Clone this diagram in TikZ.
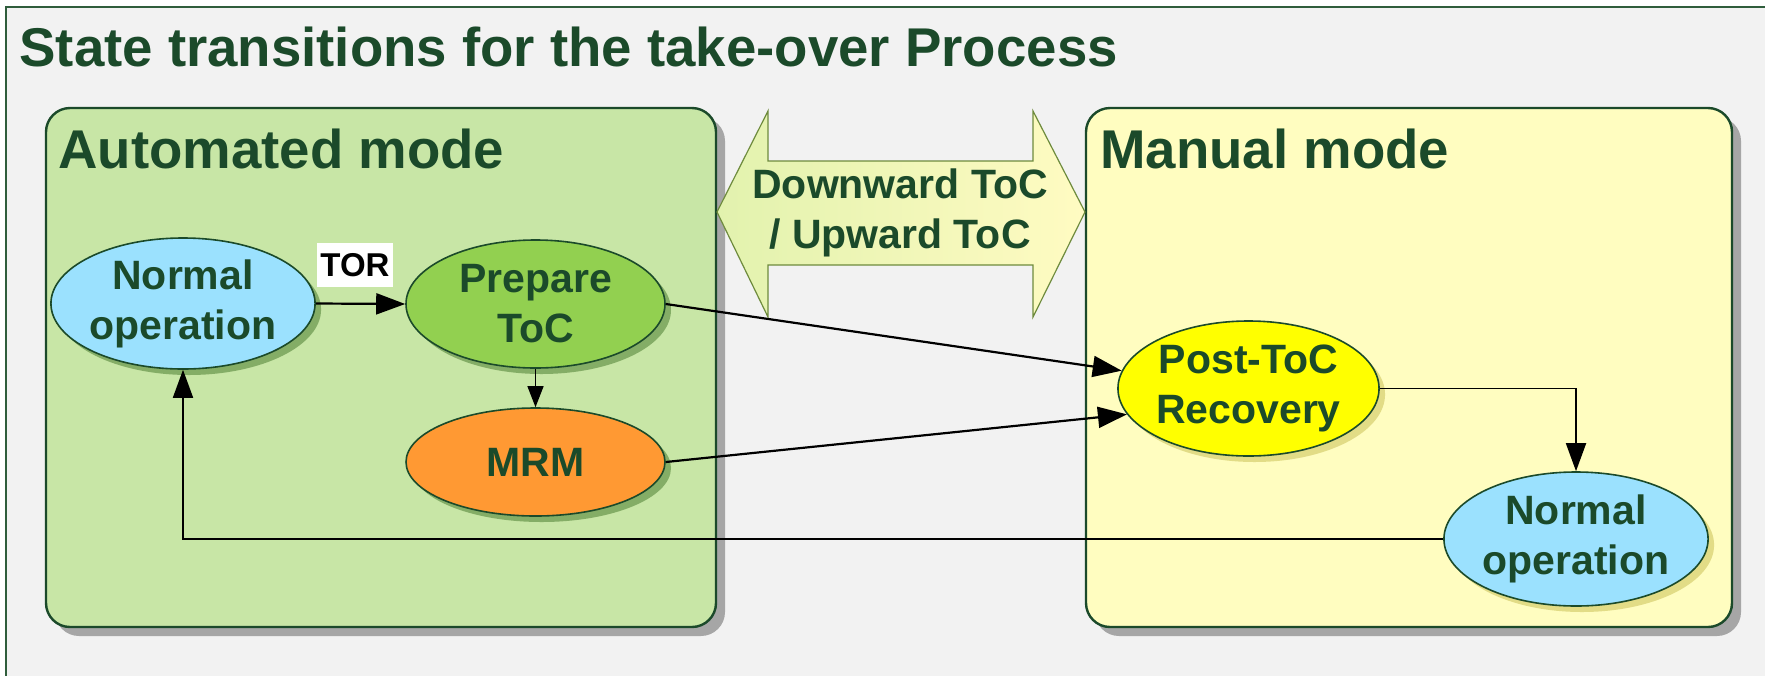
\documentclass[tikz,border=0pt]{standalone}
\usepackage{fontspec}
\setmainfont{Liberation Sans}
\usetikzlibrary{arrows.meta,shapes.geometric,shadows}

\definecolor{txtgreen}{HTML}{1B4A2A}
\definecolor{framegreen}{HTML}{2F5D3C}
\definecolor{pagegray}{HTML}{F2F2F2}
\definecolor{autofill}{HTML}{C8E6A6}
\definecolor{manfill}{HTML}{FFFDC0}
\definecolor{boxshadow}{HTML}{A6A6A6}
\definecolor{skyfill}{HTML}{9BE1FE}
\definecolor{prepfill}{HTML}{92D050}
\definecolor{mrmfill}{HTML}{FF9933}
\definecolor{postfill}{HTML}{FFFF00}
\definecolor{greenshadow}{HTML}{84AD66}
\definecolor{yellowshadow}{HTML}{E2DC86}
\definecolor{arrowleft}{HTML}{E2F2AE}
\definecolor{arrowright}{HTML}{FFFBC2}
\definecolor{arrowedge}{HTML}{6E8B3D}

\newcommand{\bigfont}{\fontsize{27.3}{32}\selectfont\bfseries}
\newcommand{\statefont}{\fontsize{20.5}{25}\selectfont\bfseries}

\tikzset{
  modebox/.style={rectangle, rounded corners=12pt, draw=txtgreen, line width=1.2pt,
    inner sep=0pt,
    drop shadow={shadow xshift=4.5pt, shadow yshift=-4.5pt, fill=boxshadow, opacity=1}},
  statenode/.style={ellipse, draw=txtgreen, line width=0.8pt, inner sep=0pt,
    text=txtgreen, font=\statefont, align=center},
  ongreen/.style={drop shadow={shadow xshift=3pt, shadow yshift=-3pt, fill=greenshadow, opacity=1}},
  onyellow/.style={drop shadow={shadow xshift=3pt, shadow yshift=-3pt, fill=yellowshadow, opacity=1}},
  heading/.style={anchor=base west, text=txtgreen, font=\bigfont, inner sep=0pt},
  conn/.style={draw=black, line width=1.1pt, -{Triangle[length=14.5pt,width=10.5pt]}},
  thinconn/.style={draw=black, line width=0.9pt, -{Triangle[length=14pt,width=10pt]}},
  shortconn/.style={draw=black, line width=0.6pt, -{Triangle[length=10.5pt,width=8pt]}},
}

\begin{document}
\begin{tikzpicture}[x=0.5pt, y=-0.5pt]
\useasboundingbox (0,0) rectangle (1765,675);
\clip (0,0) rectangle (1765,675);
\fill[white] (0,0) rectangle (1765,675);

% outer frame
\draw[fill=pagegray, draw=framegreen, line width=1.2pt] (6,7) rectangle (1820,720);

\node[heading] (title) at (19,66) {State transitions for the take-over Process};

% the two mode regions
\node[modebox, fill=autofill, minimum width=335pt, minimum height=259.5pt] (auto) at (381,367.5) {};
\node[modebox, fill=manfill, minimum width=323pt, minimum height=259.5pt] (manual) at (1409,367.5) {};
\node[heading] (autolabel) at (58,168) {Automated mode};
\node[heading] (manlabel) at (1100,168) {Manual mode};

% double-headed transfer arrow
\path[left color=arrowleft, right color=arrowright, draw=arrowedge, line width=0.6pt]
  (717,212) -- (768,111) -- (768,161) -- (1033,161) -- (1033,111) -- (1085,212)
  -- (1033,317) -- (1033,265) -- (768,265) -- (768,317) -- cycle;
\node[text=txtgreen, font=\statefont, align=center, inner sep=0pt] (toc) at (900,213)
  {Downward ToC\\/ Upward ToC};

% states
\node[statenode, ongreen, fill=skyfill, minimum width=130pt, minimum height=65.5pt] (nl) at (183,303.5) {Normal\\operation};
\node[statenode, ongreen, fill=prepfill, minimum width=129.5pt, minimum height=64pt] (prep) at (535.5,304) {Prepare\\ToC};
\node[statenode, ongreen, fill=mrmfill, minimum width=129.5pt, minimum height=54pt] (mrm) at (535.5,462) {MRM};
\node[statenode, onyellow, fill=postfill, minimum width=129.5pt, minimum height=67.5pt] (post) at (1248.5,388.5) {Post-ToC\\Recovery};
\node[statenode, onyellow, fill=skyfill, minimum width=129pt, minimum height=67pt] (nr) at (1576,539) {Normal\\operation};

% transitions
\draw[conn] (nl.east) -- (prep.west);
\node[fill=white, font=\fontsize{16.5}{18}\selectfont\bfseries, text=black,
  minimum width=38pt, minimum height=22pt, inner sep=0pt] (tor) at (355,265) {TOR};
\draw[shortconn] (prep.south) -- (mrm.north);
\draw[conn] (prep.east) -- (post.172);
\draw[conn] (mrm.east) -- (post.-168);
\draw[thinconn] (post.east) -| (nr.north);
\draw[thinconn] (nr.west) -| (nl.south);
\end{tikzpicture}
\end{document}
